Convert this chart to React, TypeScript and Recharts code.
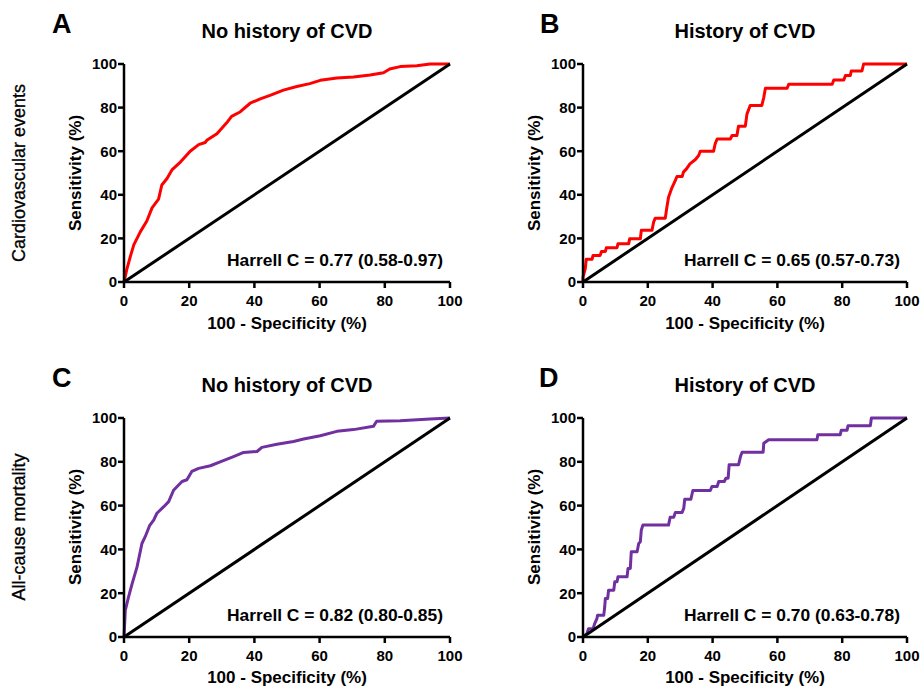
import React from "react";
import { LineChart, Line, XAxis, YAxis, ReferenceLine } from "recharts";

// Panel A: cardiovascular events, no history of CVD
const aX = [0, 0.9, 2, 3, 5, 7, 8.6, 10.6, 11.6, 13.2, 14.7, 17.3, 20.3, 22.9, 24.9, 25.4, 28.5, 31.5, 33, 35.6, 38.7, 41.8, 44.8, 48.9, 53, 57, 60.2, 65.3, 70.4, 75.5, 79.6, 81.5, 84.7, 89.8, 93.9, 100];
const aY = [0, 6, 12, 17, 23, 28, 34, 38, 44.5, 47.5, 51.4, 55, 60, 63, 64, 65, 68, 73, 76, 78, 82, 84, 85.6, 88, 89.7, 91, 92.5, 93.6, 94, 95, 96, 97.7, 98.8, 99.2, 100, 100];

// Panel B: cardiovascular events, history of CVD
const bX = [0, 0, 0.7, 1, 2.8, 3.1, 5.3, 5.7, 6.9, 7.2, 10.5, 10.8, 14.1, 14.4, 17.7, 18, 21.3, 21.8, 22.3, 25.4, 25.9, 26.4, 27.3, 28.5, 29, 30.6, 31, 32, 33, 34.7, 35.7, 36.2, 40.3, 40.8, 41.4, 45.5, 46, 47.5, 48, 50.1, 50.6, 51.6, 55.2, 55.8, 56.3, 63, 63.5, 76.9, 77.4, 80.5, 81, 82.5, 82.8, 86.1, 86.6, 100];
const bY = [0, 2.3, 6, 10.4, 10.4, 12.2, 12.2, 14, 14, 15.7, 15.7, 17.6, 17.6, 19.8, 19.8, 23.7, 23.7, 27.5, 29.3, 29.3, 34.4, 38.9, 42.7, 46.6, 48.4, 48.4, 50.4, 52, 54.2, 56.2, 58, 60, 60, 63.4, 65.6, 65.6, 67.2, 67.2, 71.5, 71.5, 77, 81, 81, 84.7, 88.9, 88.9, 90.7, 90.7, 92.7, 92.7, 94.7, 94.7, 96.8, 96.8, 100, 100];

// Panel C: all-cause mortality, no history of CVD
const cX = [0, 0.4, 1.4, 2.5, 4, 5.5, 6.5, 7.9, 9.1, 10.1, 12.2, 13.7, 15.2, 17.8, 19.3, 20.8, 22.9, 26.5, 29.5, 33.6, 36.7, 40.8, 42.3, 46.9, 52, 55.1, 60.2, 65.3, 70.4, 76.5, 77.5, 84.7, 93.9, 100];
const cY = [0, 12.2, 18.3, 24.4, 32, 42.7, 45.8, 51, 53.4, 56.5, 59.5, 61.8, 67, 71, 71.8, 75.6, 77, 78.2, 80, 82.4, 84.3, 84.7, 86.6, 88, 89.3, 90.4, 91.9, 93.9, 94.7, 96.2, 98.5, 98.8, 99.5, 100];

// Panel D: all-cause mortality, history of CVD
const dX = [0, 1.2, 1.7, 3.1, 3.6, 4.3, 4.5, 6.4, 6.7, 6.9, 7.6, 7.9, 9.5, 9.8, 10.5, 10.8, 13.6, 13.9, 14.6, 14.9, 16.7, 17.2, 17.7, 18, 18.5, 26.4, 26.9, 28, 28.5, 30.6, 31.1, 31.4, 33.3, 33.9, 39.3, 39.8, 41.4, 41.9, 43.6, 44.1, 44.8, 45.1, 48, 48.6, 49.1, 55.6, 55.8, 57.3, 72.2, 72.5, 79.4, 79.7, 81.5, 81.8, 88.7, 89, 100];
const dY = [0, 1.5, 3.8, 3.8, 6.1, 8.4, 9.9, 9.9, 13.7, 17.6, 17.6, 21.4, 21.4, 25.2, 25.2, 27.5, 27.5, 31.3, 31.3, 38.9, 38.9, 42.7, 43.5, 48.9, 51.1, 51.1, 54.7, 54.7, 56.9, 56.9, 58.8, 62.9, 62.9, 66.9, 66.9, 68.7, 68.7, 71, 71, 72.5, 72.5, 78.6, 78.6, 82.4, 84.4, 84.4, 88.5, 90.1, 90.1, 92.4, 92.4, 94.4, 94.4, 96.5, 96.5, 100, 100];

const axisTicks = [0, 20, 40, 60, 80, 100];
const harrell = [
  "Harrell C = 0.77 (0.58-0.97)",
  "Harrell C = 0.65 (0.57-0.73)",
  "Harrell C = 0.82 (0.80-0.85)",
  "Harrell C = 0.70 (0.63-0.78)",
];

const RED = "#ff0000";
const PURPLE = "#7030a0";
const FONT = "Arial, 'Liberation Sans', Helvetica, sans-serif";

const zip = (xs: number[], ys: number[]) => xs.map((x, i) => ({ x, y: ys[i] }));

const CH = 340;

interface PanelProps {
  left: number;
  top: number;
  width: number;
  x0: number; // absolute plot box
  x1: number;
  y0: number;
  y1: number;
  data: { x: number; y: number }[];
  color: string;
  note: string;
}

const Panel = ({ left, top, width, x0, x1, y0, y1, data, color, note }: PanelProps) => {
  const yAxisW = 40;
  const xAxisH = 30;
  const margin = {
    top: y0 - top,
    left: x0 - left - yAxisW,
    right: left + width - x1,
    bottom: top + CH - y1 - xAxisH,
  };
  const tickStyle = { fill: "#000", fontSize: 15, fontWeight: 700, fontFamily: FONT };
  return (
    <div style={{ position: "absolute", left, top }}>
      <LineChart width={width} height={CH} data={data} margin={margin}>
        <XAxis
          type="number"
          dataKey="x"
          domain={[0, 100]}
          ticks={axisTicks}
          height={xAxisH}
          axisLine={{ stroke: "#000", strokeWidth: 2.5 }}
          tickLine={{ stroke: "#000", strokeWidth: 2.5 }}
          tickSize={6}
          tickMargin={7}
          tick={tickStyle}
          interval={0}
        />
        <YAxis
          type="number"
          dataKey="y"
          domain={[0, 100]}
          ticks={axisTicks}
          width={yAxisW}
          axisLine={{ stroke: "#000", strokeWidth: 2.5 }}
          tickLine={{ stroke: "#000", strokeWidth: 2.5 }}
          tickSize={6}
          tickMargin={1}
          tick={tickStyle}
          interval={0}
        />
        <Line
          type="linear"
          dataKey="y"
          stroke={color}
          strokeWidth={3}
          dot={false}
          isAnimationActive={false}
          strokeLinejoin="round"
        />
        <ReferenceLine
          segment={[{ x: 0, y: 0 }, { x: 100, y: 100 }]}
          stroke="#000"
          strokeWidth={3}
        />
      </LineChart>
      <svg
        width={width}
        height={CH}
        style={{ position: "absolute", left: 0, top: 0, pointerEvents: "none" }}
      >
        <text
          x={x1 - left - 7}
          y={y1 - top - 16}
          textAnchor="end"
          fontFamily={FONT}
          fontWeight={700}
          fontSize={17.4}
          fill="#000"
        >
          {note}
        </text>
      </svg>
    </div>
  );
};

const App = () => {
  const lbl = { fontFamily: FONT, fill: "#000" };
  return (
    <div
      style={{
        position: "absolute",
        left: 0,
        top: 0,
        width: 922,
        height: 688,
        background: "#fff",
        overflow: "hidden",
      }}
    >
      <Panel left={0} top={0} width={475} x0={124} x1={450} y0={64} y1={282} data={zip(aX, aY)} color={RED} note={harrell[0]} />
      <Panel left={460} top={0} width={462} x0={583} x1={907} y0={64} y1={282} data={zip(bX, bY)} color={RED} note={harrell[1]} />
      <Panel left={0} top={354} width={475} x0={124} x1={450} y0={418} y1={637} data={zip(cX, cY)} color={PURPLE} note={harrell[2]} />
      <Panel left={460} top={354} width={462} x0={583} x1={907} y0={418} y1={637} data={zip(dX, dY)} color={PURPLE} note={harrell[3]} />

      <svg width={922} height={688} style={{ position: "absolute", left: 0, top: 0, pointerEvents: "none" }}>
        {/* panel letters */}
        <text x={52} y={33} fontSize={27} fontWeight={700} {...lbl}>A</text>
        <text x={540} y={33} fontSize={27} fontWeight={700} {...lbl}>B</text>
        <text x={52} y={387} fontSize={27} fontWeight={700} {...lbl}>C</text>
        <text x={539} y={387} fontSize={27} fontWeight={700} {...lbl}>D</text>

        {/* titles */}
        <text x={287} y={38} textAnchor="middle" fontSize={20} fontWeight={700} {...lbl}>No history of CVD</text>
        <text x={745} y={38} textAnchor="middle" fontSize={20} fontWeight={700} {...lbl}>History of CVD</text>
        <text x={287} y={392} textAnchor="middle" fontSize={20} fontWeight={700} {...lbl}>No history of CVD</text>
        <text x={745} y={392} textAnchor="middle" fontSize={20} fontWeight={700} {...lbl}>History of CVD</text>

        {/* x axis labels */}
        <text x={287} y={329} textAnchor="middle" fontSize={17} fontWeight={700} {...lbl}>100 - Specificity (%)</text>
        <text x={745} y={329} textAnchor="middle" fontSize={17} fontWeight={700} {...lbl}>100 - Specificity (%)</text>
        <text x={287} y={683} textAnchor="middle" fontSize={17} fontWeight={700} {...lbl}>100 - Specificity (%)</text>
        <text x={745} y={683} textAnchor="middle" fontSize={17} fontWeight={700} {...lbl}>100 - Specificity (%)</text>

        {/* y axis labels */}
        <text transform="translate(81,173) rotate(-90)" textAnchor="middle" fontSize={17} fontWeight={700} {...lbl}>Sensitivity (%)</text>
        <text transform="translate(540,173) rotate(-90)" textAnchor="middle" fontSize={17} fontWeight={700} {...lbl}>Sensitivity (%)</text>
        <text transform="translate(81,527) rotate(-90)" textAnchor="middle" fontSize={17} fontWeight={700} {...lbl}>Sensitivity (%)</text>
        <text transform="translate(540,527) rotate(-90)" textAnchor="middle" fontSize={17} fontWeight={700} {...lbl}>Sensitivity (%)</text>

        {/* row labels */}
        <text transform="translate(25,173) rotate(-90)" textAnchor="middle" fontSize={18} stroke="#000" strokeWidth={0.3} {...lbl}>Cardiovascular events</text>
        <text transform="translate(25,527) rotate(-90)" textAnchor="middle" fontSize={18} stroke="#000" strokeWidth={0.3} {...lbl}>All-cause mortality</text>
      </svg>
    </div>
  );
};

export default App;
